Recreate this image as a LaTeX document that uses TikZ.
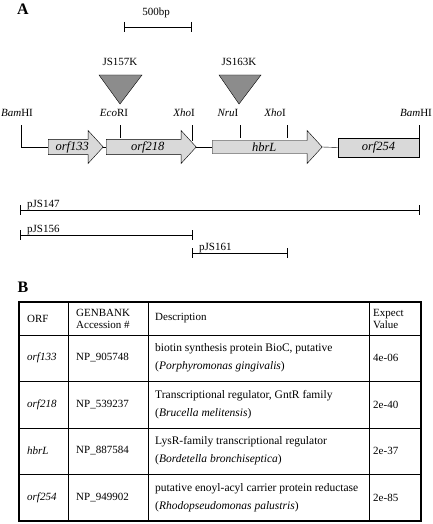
\documentclass[tikz,border=0pt]{standalone}
\usepackage{fontspec}
\setmainfont{Liberation Serif}
\usetikzlibrary{shapes.arrows,positioning}

\begin{document}
\begin{tikzpicture}[x=1pt,y=-1pt,
    panel/.style={font=\fontsize{16}{18}\selectfont\bfseries},
    lbl/.style={font=\fontsize{11}{13}\selectfont, inner sep=0pt},
    gene/.style={single arrow, draw, fill=gray!30, inner sep=0pt,
        minimum width=33pt, single arrow head extend=7pt,
        single arrow tip angle=95, font=\fontsize{12.5}{14}\selectfont\itshape},
    genebox/.style={rectangle, draw, fill=gray!30, inner sep=0pt,
        font=\fontsize{12.5}{14}\selectfont\itshape},
    insert/.style={draw, fill=black!45},
    cell/.style={font=\fontsize{11}{12}\selectfont, inner sep=0pt, anchor=west, align=left}]
    \useasboundingbox (0,0) rectangle (432,524);

    % Panel A: gene map
    \node[panel] (pA) at (23,9) {A};

    % scale bar
    \node[lbl] (scale) at (156,13) {500bp};
    \draw (124,27) -- (191,27) (124,22) -- (124,32) (191,22) -- (191,32);

    % genes
    \node[gene, minimum height=55pt, anchor=tail] (orf133) at (48,147) {orf133};
    \node[gene, minimum height=90pt, anchor=tail] (orf218) at (106,147) {orf218};
    \node[gene, minimum height=110pt, anchor=tail] (hbrL) at (212,147) {hbrL};
    \node[genebox, minimum width=81pt, minimum height=19pt] (orf254) at (378.5,147.5) {orf254};

    % backbone
    \coordinate (bamLtick) at (21,125);
    \draw (bamLtick) |- (orf133.tail);
    \draw (orf133.tip) -- (orf218.tail);
    \draw (orf218.tip) -- (hbrL.tail);
    \draw (hbrL.tip) -- (orf254.west);

    % restriction sites
    \foreach \xl/\xt/\yb/\site [count=\i] in {17/21/125/\textit{Bam}HI, 114/120/137.5/\textit{Eco}RI,
        184/192/141/\textit{Xho}I, 228/240/137.5/\textit{Nru}I,
        275/287/137.5/\textit{Xho}I, 416/419/138/\textit{Bam}HI} {
        \node[lbl] (site\i) at (\xl,113) {\site};
        \draw (\xt,125) -- (\xt,\yb);
    }

    % insertions
    \node[lbl] (js157) at (120,62) {JS157K};
    \draw[insert] (99,75) -- (142,75) -- (120,104) -- cycle;
    \node[lbl] (js163) at (239,62) {JS163K};
    \draw[insert] (219,75) -- (261,75) -- (239,104) -- cycle;

    % clones
    \foreach \xa/\xb/\y/\clone in {20/419/210/pJS147, 20/192/235/pJS156, 192/287/253/pJS161} {
        \draw (\xa,\y) -- (\xb,\y) (\xa,\y-5) -- (\xa,\y+5) (\xb,\y-5) -- (\xb,\y+5);
        \node[lbl, anchor=base west] (\clone) at (\xa+7,\y-3) {\clone};
    }

    % Panel B: table
    \node[panel] (pB) at (23,287) {B};
    \foreach \y in {335,381,428,474} {
        \draw (19,\y) -- (421,\y);
    }
    \foreach \x in {68,148,369} {
        \draw (\x,302) -- (\x,521);
    }
    \draw[line width=2pt] (19,302) rectangle (421,521);

    \node[cell] (hOrf) at (27,318.5) {ORF};
    \node[cell] (hAcc) at (76,318.5) {GENBANK\\Accession \#};
    \node[cell] (hDesc) at (155,318.5) {Description};
    \node[cell] (hExp) at (373,318.5) {Expect\\Value};

    \foreach \y/\orf/\acc/\descA/\descB/\ev [count=\i] in {
        358/orf133/NP\_905748/{biotin synthesis protein BioC, putative}/Porphyromonas gingivalis/4e-06,
        404.5/orf218/NP\_539237/{Transcriptional regulator, GntR family}/Brucella melitensis/2e-40,
        451/hbrL/NP\_887584/{LysR-family transcriptional regulator}/Bordetella bronchiseptica/2e-37,
        497.5/orf254/NP\_949902/{putative enoyl-acyl carrier protein reductase}/Rhodopseudomonas palustris/2e-85} {
        \node[cell] (orf\i) at (27,\y) {\textit{\orf}};
        \node[cell] (acc\i) at (76,\y) {\acc};
        \node[cell, font=\fontsize{11.5}{13}\selectfont] (desc\i) at (155,\y) {\descA\\[5pt](\textit{\descB})};
        \node[cell] (ev\i) at (373,\y) {\ev};
    }
\end{tikzpicture}
\end{document}
